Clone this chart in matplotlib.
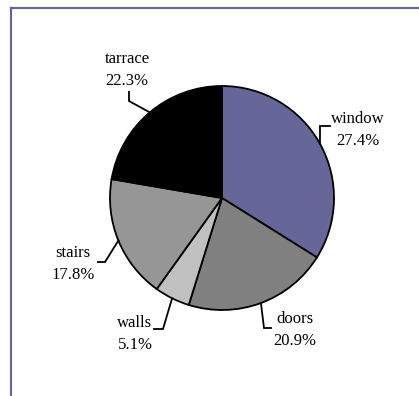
import numpy as np
import matplotlib.pyplot as plt
from matplotlib.lines import Line2D

################################################################################################

labels = ['window', 'doors', 'walls', 'stairs', 'tarrace']
values = [33.9, 20.9, 5.1, 17.8, 22.3]          # slice sizes as drawn
shown = ['27.4%', '20.9%', '5.1%', '17.8%', '22.3%']   # percentages as printed
colors = ['#666699', '#808080', '#c0c0c0', '#969696', '#000000']

################################################################################################

W, H = 419, 396
cx, cy, r = 222, H - 198, 112

# elbow point and text centre (pixels from top-left) for each label
elbows = [[(320, 126), (330, 126)],
          [(264, 328), (271, 328)],
          [(163, 329), (154, 329)],
          [(105, 262), (98, 262)],
          [(129, 101), (129, 92)]]
text_xy = [(358, 119), (295, 319), (135, 323), (73, 253), (127, 59)]
line_gap = 22

################################################################################################

plt.rcParams['font.family'] = ['Liberation Serif', 'DejaVu Serif']

fig = plt.figure(figsize=(W / 100, H / 100), dpi=100)
ax = fig.add_axes([0, 0, 1, 1])

wedges, _ = ax.pie(values, colors=colors, startangle=90, counterclock=False,
                   center=(cx, cy), radius=r, frame=True,
                   wedgeprops=dict(edgecolor='black', linewidth=1.3))
ax.set_xlim(0, W)
ax.set_ylim(0, H)
ax.set_aspect('equal')
ax.axis('off')

for w, lab, pct, elb, (tx, ty) in zip(wedges, labels, shown, elbows, text_xy):
    mid = np.deg2rad((w.theta1 + w.theta2) / 2)
    ex, ey = cx + r * np.cos(mid), cy + r * np.sin(mid)
    xs = [ex] + [p[0] for p in elb]
    ys = [ey] + [H - p[1] for p in elb]
    ax.plot(xs, ys, color='black', lw=1.3, solid_joinstyle='miter')
    ax.text(tx, H - ty, lab, ha='center', va='center', fontsize=12)
    ax.text(tx, H - ty - line_gap, pct, ha='center', va='center', fontsize=12)

# frame around the chart area
fig.add_artist(Line2D([11 / W, 1], [1 - 8 / H, 1 - 8 / H], color='#666699', lw=1.6))
fig.add_artist(Line2D([11 / W, 11 / W], [0, 1 - 8 / H], color='#666699', lw=1.6))

fig.savefig('out.png', dpi=100)
